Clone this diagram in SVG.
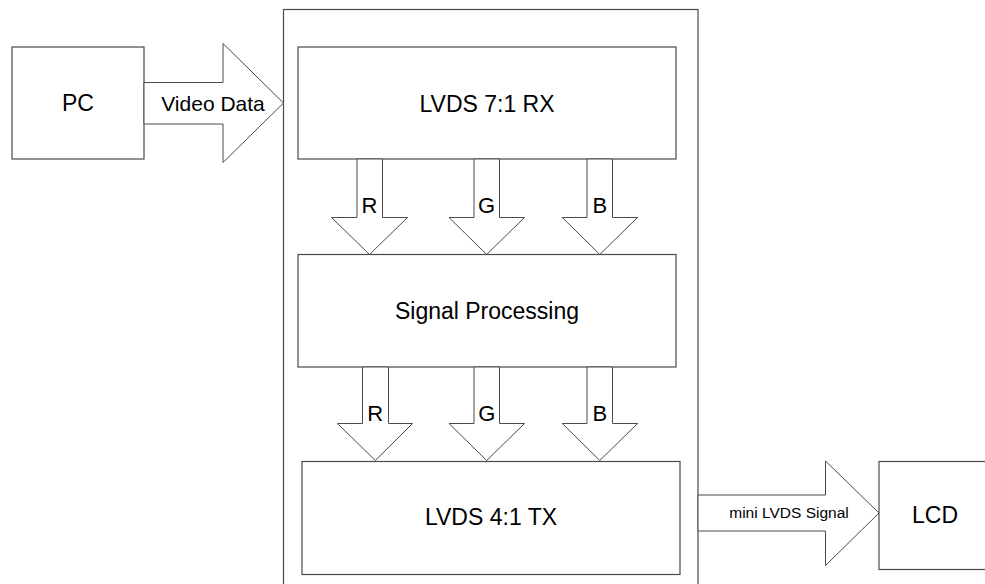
<svg xmlns="http://www.w3.org/2000/svg" width="985" height="584" viewBox="0 0 985 584">
<style>
.box{fill:#fff;stroke:#4a4a4a;stroke-width:1.2}
.arr{fill:#fff;stroke:#4a4a4a;stroke-width:1}
text{font-family:"Liberation Sans",Arial,sans-serif;fill:#000;text-anchor:middle}
.big{font-size:23px}
.mid{font-size:21px}
.lbl{font-size:22px}
.sm{font-size:15.5px}
</style>
<rect width="985" height="584" fill="#fff"/>
<g id="container"><rect class="box" x="283.5" y="9.5" width="414.5" height="590"/></g>
<g id="pc"><rect class="box" x="12" y="47" width="132" height="112"/><text class="big" x="78" y="111">PC</text></g>
<g id="rx"><rect class="box" x="298" y="47" width="378" height="112"/><text class="big" x="487" y="111.5">LVDS 7:1 RX</text></g>
<g id="sp"><rect class="box" x="298" y="254.5" width="378" height="112.5"/><text class="big" x="487" y="318.5">Signal Processing</text></g>
<g id="tx"><rect class="box" x="302" y="461.5" width="378" height="113"/><text class="big" x="491" y="525">LVDS 4:1 TX</text></g>
<g id="lcd"><rect class="box" x="879" y="461.5" width="110" height="108"/><text class="big" x="935" y="523">LCD</text></g>
<g id="connectors">
<polygon class="arr" points="144,82.5 223,82.5 223,43.5 283.5,103 223,162.5 223,124 144,124"/>
<text class="mid" x="213" y="111">Video Data</text>
<polygon class="arr" points="357,159 382.5,159 382.5,217.5 407.5,217.5 369.5,254.5 331.5,217.5 357,217.5"/>
<text class="lbl" x="369.5" y="213">R</text>
<polygon class="arr" points="474,159 499.5,159 499.5,217.5 524.5,217.5 486.7,254.5 449,217.5 474,217.5"/>
<text class="lbl" x="486.5" y="213">G</text>
<polygon class="arr" points="587,159 612.5,159 612.5,217.5 637.5,217.5 599.8,254.5 562.3,217.5 587,217.5"/>
<text class="lbl" x="599.8" y="213">B</text>
<polygon class="arr" points="362.5,367 388.5,367 388.5,423.5 412.5,423.5 375.3,460.5 337.5,423.5 362.5,423.5"/>
<text class="lbl" x="375.3" y="421">R</text>
<polygon class="arr" points="474,367 499.5,367 499.5,423.5 524.5,423.5 486.7,460.5 449,423.5 474,423.5"/>
<text class="lbl" x="486.7" y="421">G</text>
<polygon class="arr" points="587,367 612.5,367 612.5,423.5 637.5,423.5 599.8,460.5 562.3,423.5 587,423.5"/>
<text class="lbl" x="599.8" y="421">B</text>
<polygon class="arr" points="698,495 825.5,495 825.5,461 879,513 825.5,565.5 825.5,531 698,531"/>
<text class="sm" x="789" y="518">mini LVDS Signal</text>
</g>
</svg>
